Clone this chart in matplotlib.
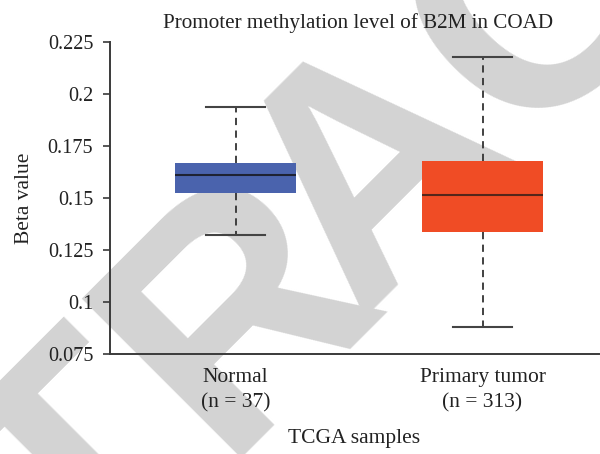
import matplotlib
matplotlib.use("Agg")
from matplotlib import pyplot as plt

plt.rcParams['font.family'] = 'serif'
plt.rcParams['font.serif'] = ['Liberation Serif', 'DejaVu Serif']

# values (beta values)
groups = ["Normal", "Primary tumor"]
counts = [37, 313]
whis_lo = [0.1322, 0.0881]
q1 = [0.1526, 0.1337]
medians = [0.1609, 0.1516]
q3 = [0.1667, 0.1678]
whis_hi = [0.1938, 0.2178]
box_colors = ["#4a63ad", "#f04c25"]
med_colors = ["#1e2233", "#55261a"]

yticks = [0.075, 0.1, 0.125, 0.15, 0.175, 0.2, 0.225]
ytick_labels = ["0.075", "0.1", "0.125", "0.15", "0.175", "0.2", "0.225"]

fig = plt.figure(figsize=(6.0, 4.54), dpi=100)

# watermark behind everything (two pieces so the spacing is a bit tighter)
wm = dict(rotation=45, rotation_mode='anchor', va='baseline', fontsize=235,
          fontweight='bold', family='Liberation Sans', color='#d3d3d3',
          zorder=-5)
fig.text(358 / 600, 1 - 318 / 454, "ACTED", ha='left', **wm)
fig.text(386 / 600, 1 - 290 / 454, "RETR", ha='right', **wm)

ax = fig.add_axes([0.1833, 0.2203, 0.8147, 0.6872])
ax.patch.set_alpha(0)

stats = []
for i in range(len(groups)):
    stats.append(dict(med=medians[i], q1=q1[i], q3=q3[i],
                      whislo=whis_lo[i], whishi=whis_hi[i], fliers=[]))

positions = [1, 2]
bp = ax.bxp(stats, positions=positions, widths=0.489, capwidths=0.24,
            patch_artist=True, showfliers=False)

for i, b in enumerate(bp['boxes']):
    b.set_facecolor(box_colors[i])
    b.set_edgecolor(box_colors[i])
    b.set_linewidth(0)
for i, m in enumerate(bp['medians']):
    m.set_color(med_colors[i])
    m.set_linewidth(1.5)
for w in bp['whiskers']:
    w.set_color('#333333')
    w.set_linewidth(1.3)
    w.set_linestyle((0, (4, 3)))
    w.set_zorder(1)
for c in bp['caps']:
    c.set_color('#444444')
    c.set_linewidth(1.5)

ax.set_ylim(0.075, 0.225)
ax.set_xlim(0.491, 2.471)
ax.set_yticks(yticks)
ax.set_yticklabels(ytick_labels)
ax.set_xticks(positions)
ax.set_xticklabels([f"{g}\n(n = {n})" for g, n in zip(groups, counts)],
                   linespacing=1.45)

for s in ['top', 'right']:
    ax.spines[s].set_visible(False)
for s in ['left', 'bottom']:
    ax.spines[s].set_color('#3a3a3a')
    ax.spines[s].set_linewidth(1.4)

ax.tick_params(axis='y', length=5, width=1.2, color='#3a3a3a',
               labelsize=14.6, labelcolor='#222222', pad=7)
ax.tick_params(axis='x', length=0, labelsize=15.5, labelcolor='#222222', pad=10)

ax.set_title("Promoter methylation level of B2M in COAD", fontsize=15.2,
             color='#222222', pad=10, x=0.508)
ax.set_xlabel("TCGA samples", fontsize=15.5, color='#222222', labelpad=12)
ax.set_ylabel("Beta value", fontsize=15.5, color='#222222', labelpad=10)

fig.savefig("out.png", dpi=100)
